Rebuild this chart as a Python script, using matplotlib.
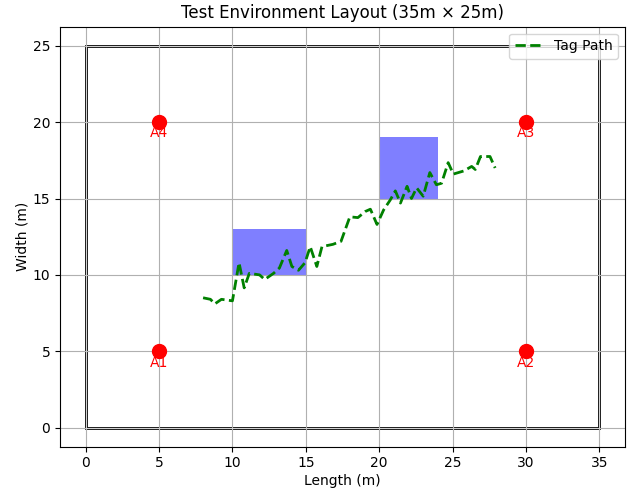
import matplotlib
matplotlib.use("Agg")
import matplotlib.pyplot as plt
from matplotlib.patches import Rectangle

room_length = 35
room_width = 25

anchor_names = ["A1", "A2", "A3", "A4"]
anchor_x = [5, 30, 30, 5]
anchor_y = [5, 5, 20, 20]

obstacles = [(10, 10, 5, 3), (20, 15, 4, 4)]  # x, y, w, h

path_x = [8.0, 8.5, 8.8, 9.25, 10.0, 10.45, 10.8, 11.15, 11.85, 12.2, 12.8, 13.2,
          13.7, 14.05, 14.5, 14.95, 15.3, 15.75, 16.1, 16.85, 17.4, 18.0, 18.55,
          19.05, 19.4, 19.85, 20.3, 20.75, 21.1, 21.45, 21.9, 22.2, 22.55, 23.0,
          23.45, 23.9, 24.25, 24.7, 25.05, 25.75, 26.3, 26.55, 26.9, 27.55, 27.9]
path_y = [8.5, 8.4, 8.1, 8.4, 8.3, 10.8, 9.15, 10.1, 10.0, 9.7, 10.1, 10.45,
          11.6, 10.55, 10.3, 10.8, 11.85, 10.55, 11.85, 12.0, 12.2, 13.8, 13.75,
          14.15, 14.3, 13.3, 14.25, 14.9, 15.5, 14.7, 15.8, 15.0, 15.7, 15.15,
          16.7, 15.9, 16.0, 17.35, 16.6, 16.8, 17.1, 16.9, 17.75, 17.75, 17.0]

W, H = 641, 489
fig = plt.figure(figsize=(W / 100 + 1e-4, H / 100 + 1e-4), dpi=100)
ax = fig.add_axes([60 / W, (H - 446.7) / H, (625 - 60) / W, (446.7 - 26.7) / H])

ax.add_patch(Rectangle((0, 0), room_length, room_width, fill=False,
                       edgecolor="black", linewidth=2))
ax.plot([0, room_length, room_length, 0, 0], [0, 0, room_width, room_width, 0],
        color="white", linewidth=0.6, alpha=0.5)

for (ox, oy, w, h) in obstacles:
    ax.add_patch(Rectangle((ox, oy), w, h, facecolor="blue", edgecolor="none",
                           alpha=0.5))

for name, x, y in zip(anchor_names, anchor_x, anchor_y):
    ax.plot(x, y, "ro", markersize=10)
    ax.text(x, y - 1, name, ha="center", color="red", fontsize=10)

ax.plot(path_x, path_y, "g--", linewidth=2, label="Tag Path")

ax.set_xlim(-1.75, 36.75)
ax.set_ylim(-1.25, 26.25)
ax.set_title("Test Environment Layout (35m × 25m)")
ax.set_xlabel("Length (m)", labelpad=2.5)
ax.set_ylabel("Width (m)", labelpad=2.5)
ax.grid(True)
ax.legend(loc="upper right")

fig.savefig("out.png", dpi=100)
